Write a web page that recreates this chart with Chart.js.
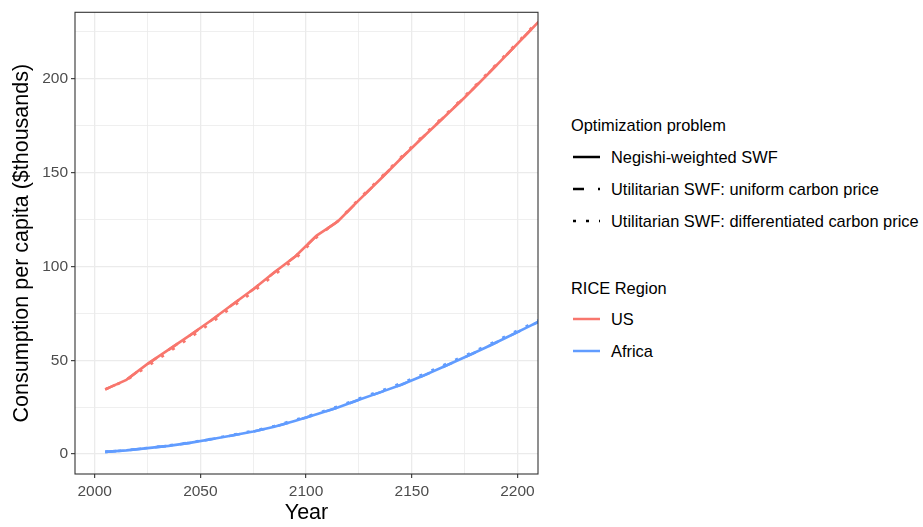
<!DOCTYPE html>
<html>
<head>
<meta charset="utf-8">
<script src="https://cdn.jsdelivr.net/npm/chart.js@4/dist/chart.umd.min.js"></script>
<style>
  body { margin: 0; background: #fff; font-family: "Liberation Sans", Arial, sans-serif; }
  #wrap { position: relative; width: 923px; height: 527px; }
  #plot { position: absolute; left: 0; top: 0; width: 545px; height: 527px; }
  .lg { position: absolute; left: 571px; font-size: 16.4px; line-height: 20px; color: #000; white-space: nowrap; }
  .it { left: 611px; }
  .key { position: absolute; left: 573px; width: 28px; height: 10px; }
</style>
</head>
<body>
<div id="wrap">
  <div id="plot"><canvas id="c"></canvas></div>

  <div class="lg" style="top:115px">Optimization problem</div>
  <svg class="key" style="top:152px"><line x1="0" y1="5" x2="27" y2="5" stroke="#000" stroke-width="2.5"/></svg>
  <div class="lg it" style="top:147px">Negishi-weighted SWF</div>
  <svg class="key" style="top:184px"><line x1="0" y1="5" x2="27" y2="5" stroke="#000" stroke-width="2.5" stroke-dasharray="11 14"/></svg>
  <div class="lg it" style="top:179px">Utilitarian SWF: uniform carbon price</div>
  <svg class="key" style="top:216px"><line x1="0" y1="5" x2="27" y2="5" stroke="#000" stroke-width="2.5" stroke-dasharray="3 10"/></svg>
  <div class="lg it" style="top:211px">Utilitarian SWF: differentiated carbon price</div>

  <div class="lg" style="top:278px">RICE Region</div>
  <svg class="key" style="top:314px"><line x1="0" y1="5" x2="27" y2="5" stroke="#F8766D" stroke-width="2.5"/></svg>
  <div class="lg it" style="top:309px">US</div>
  <svg class="key" style="top:346px"><line x1="0" y1="5" x2="27" y2="5" stroke="#619CFF" stroke-width="2.5"/></svg>
  <div class="lg it" style="top:341px">Africa</div>
</div>

<script>
// RICE time steps (10 years)
var years = [2005, 2015, 2025, 2035, 2045, 2055, 2065, 2075, 2085, 2095, 2105,
             2115, 2125, 2135, 2145, 2155, 2165, 2175, 2185, 2195, 2205, 2215];

// consumption per capita, $thousands
var usNegishi   = [34.5, 39.6, 48.1, 55.7, 63.3, 71.2, 79.6, 87.9, 96.9, 105.5, 116.5,
                   124.0, 135.4, 146.4, 157.7, 168.6, 179.3, 190.1, 201.4, 212.9, 224.6, 236.4];
var usUniform   = [34.5, 39.6, 48.0, 55.6, 63.2, 71.1, 79.5, 87.8, 96.8, 105.4, 116.4,
                   124.0, 135.4, 146.5, 157.8, 168.7, 179.4, 190.2, 201.5, 213.0, 224.7, 236.5];
var usDiff      = [34.5, 39.4, 46.8, 54.4, 62.0, 69.9, 78.3, 86.6, 95.6, 104.2, 115.6,
                   124.2, 136.0, 147.1, 158.4, 169.3, 180.0, 190.8, 202.1, 213.6, 225.3, 237.1];

var afNegishi   = [1.2, 2.0, 3.2, 4.4, 6.0, 7.9, 9.9, 12.0, 14.6, 17.8, 21.2,
                   24.8, 29.0, 32.9, 37.0, 41.6, 46.6, 51.6, 56.8, 62.3, 67.8, 73.3];
var afUniform   = [1.2, 2.0, 3.2, 4.4, 6.0, 7.9, 9.9, 12.0, 14.6, 17.8, 21.2,
                   24.8, 29.0, 32.9, 37.0, 41.6, 46.6, 51.6, 56.8, 62.3, 67.8, 73.3];
var afDiff      = [1.2, 2.0, 3.3, 4.6, 6.2, 8.1, 10.2, 12.4, 15.0, 18.3, 21.7,
                   25.4, 29.6, 33.6, 37.8, 42.4, 47.4, 52.4, 57.6, 63.1, 68.6, 74.1];

var xTicks = [2000, 2025, 2050, 2075, 2100, 2125, 2150, 2175, 2200];
var yTicks = [0, 25, 50, 75, 100, 125, 150, 175, 200, 225];

var red = '#F8766D', blue = '#619CFF';

function pts(vals) {
  return years.map(function(y, i) { return {x: y, y: vals[i]}; });
}
function ds(vals, color, dash) {
  return { data: pts(vals), borderColor: color, borderWidth: 2.6, borderDash: dash,
           pointRadius: 0, fill: false, tension: 0 };
}

var frame = {
  id: 'frame',
  afterDraw: function(chart) {
    var a = chart.chartArea, ctx = chart.ctx;
    ctx.save();
    ctx.strokeStyle = '#333333';
    ctx.lineWidth = 1.1;
    ctx.strokeRect(a.left, a.top, a.right - a.left, a.bottom - a.top);
    ctx.restore();
  }
};

function isMajor(v) { return v % 50 === 0; }

new Chart(document.getElementById('c'), {
  type: 'line',
  data: {
    datasets: [
      ds(usDiff, red, [3, 10]), ds(usUniform, red, [11, 14]),
      ds(afDiff, blue, [3, 10]), ds(afUniform, blue, [11, 14]),
      ds(usNegishi, red, []), ds(afNegishi, blue, [])
    ]
  },
  options: {
    responsive: true,
    maintainAspectRatio: false,
    animation: false,
    layout: { padding: { top: 10, right: 7, left: 0, bottom: 0 } },
    plugins: { legend: { display: false }, tooltip: { enabled: false } },
    scales: {
      x: {
        type: 'linear', min: 1990.7, max: 2209.7,
        afterBuildTicks: function(s) { s.ticks = xTicks.map(function(v) { return {value: v}; }); },
        afterFit: function(s) { s.height = 53; },
        border: { display: false },
        grid: {
          color: '#EBEBEB',
          lineWidth: function(c) { return isMajor(c.tick.value) ? 1.3 : 0.8; },
          tickColor: function(c) { return isMajor(c.tick.value) ? '#333333' : 'rgba(0,0,0,0)'; },
          tickLength: 4, tickWidth: 1.1
        },
        ticks: {
          autoSkip: false, maxRotation: 0, padding: 4, color: '#4D4D4D',
          font: { family: 'Liberation Sans', size: 15.5 },
          callback: function(v) { return isMajor(v) ? String(v) : ''; }
        },
        title: { display: true, text: 'Year', color: '#000',
                 font: { family: 'Liberation Sans', size: 21.5 }, padding: { top: 0, bottom: 1 } }
      },
      y: {
        min: -10.6, max: 235.5,
        afterBuildTicks: function(s) { s.ticks = yTicks.map(function(v) { return {value: v}; }); },
        afterFit: function(s) { s.width = 75; },
        border: { display: false },
        grid: {
          color: '#EBEBEB',
          lineWidth: function(c) { return isMajor(c.tick.value) ? 1.3 : 0.8; },
          tickColor: function(c) { return isMajor(c.tick.value) ? '#333333' : 'rgba(0,0,0,0)'; },
          tickLength: 4, tickWidth: 1.1
        },
        ticks: {
          autoSkip: false, padding: 3, color: '#4D4D4D',
          font: { family: 'Liberation Sans', size: 15.5 },
          callback: function(v) { return isMajor(v) ? String(v) : ''; }
        },
        title: { display: true, text: 'Consumption per capita ($thousands)', color: '#000',
                 font: { family: 'Liberation Sans', size: 21.5 }, padding: { top: 9, bottom: 0 } }
      }
    }
  },
  plugins: [frame]
});
</script>
</body>
</html>
